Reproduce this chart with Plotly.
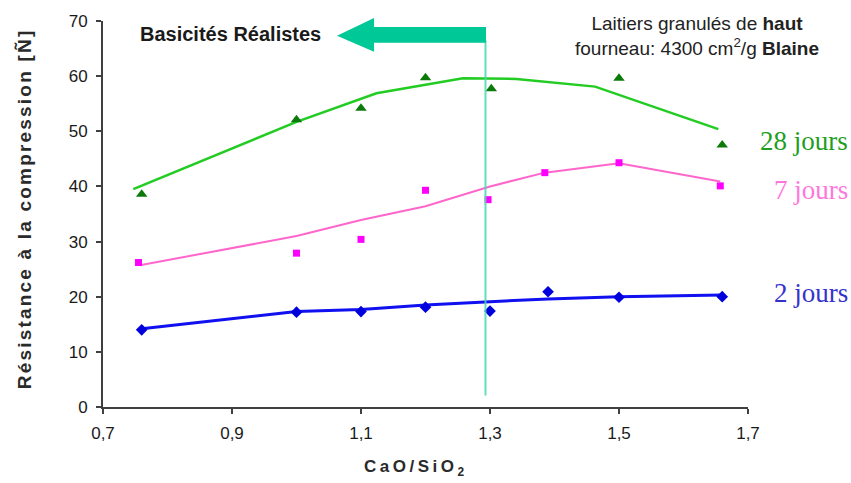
import plotly.graph_objects as go

# ---- data ----
x_2j = [0.76, 1.0, 1.1, 1.2, 1.3, 1.39, 1.5, 1.66]
y_2j = [14.0, 17.2, 17.3, 18.1, 17.4, 20.9, 19.9, 20.0]
trend_x_2j = [0.76, 1.0, 1.1, 1.2, 1.3, 1.39, 1.5, 1.66]
trend_y_2j = [14.2, 17.3, 17.7, 18.5, 19.1, 19.6, 20.0, 20.3]

x_7j = [0.755, 1.0, 1.1, 1.2, 1.297, 1.385, 1.5, 1.657]
y_7j = [26.2, 27.9, 30.4, 39.3, 37.6, 42.5, 44.3, 40.1]
trend_x_7j = [0.757, 1.0, 1.1, 1.2, 1.3, 1.385, 1.5, 1.657]
trend_y_7j = [25.7, 31.0, 33.9, 36.4, 40.0, 42.5, 44.2, 40.9]

x_28j = [0.76, 1.0, 1.1, 1.2, 1.302, 1.5, 1.66]
y_28j = [38.6, 52.1, 54.2, 59.7, 57.7, 59.6, 47.5]
trend_x_28j = [0.747, 1.0, 1.124, 1.258, 1.341, 1.463, 1.654]
trend_y_28j = [39.5, 51.7, 56.9, 59.6, 59.5, 58.1, 50.4]

x_ticks = [0.7, 0.9, 1.1, 1.3, 1.5, 1.7]
x_ticktext = ["0,7", "0,9", "1,1", "1,3", "1,5", "1,7"]
y_ticks = [0, 10, 20, 30, 40, 50, 60, 70]

basicity_limit = 1.293

SANS = "Liberation Sans, Arial, sans-serif"
SERIF = "Liberation Serif, Times New Roman, serif"

fig = go.Figure()

# trend lines
fig.add_trace(go.Scatter(x=trend_x_28j, y=trend_y_28j, mode="lines",
                         line=dict(color="#22CC22", width=2.5), hoverinfo="skip"))
fig.add_trace(go.Scatter(x=trend_x_7j, y=trend_y_7j, mode="lines",
                         line=dict(color="#FF66CC", width=2), hoverinfo="skip"))
fig.add_trace(go.Scatter(x=trend_x_2j, y=trend_y_2j, mode="lines",
                         line=dict(color="#1010F0", width=3), hoverinfo="skip"))

# measured points
fig.add_trace(go.Scatter(x=x_28j, y=y_28j, mode="markers",
                         marker=dict(symbol="triangle-up", size=10, color="#0B7A0B")))
fig.add_trace(go.Scatter(x=x_7j, y=y_7j, mode="markers",
                         marker=dict(symbol="square", size=7, color="#FF00FF")))
fig.add_trace(go.Scatter(x=x_2j, y=y_2j, mode="markers",
                         marker=dict(symbol="diamond", size=9, color="#0000DD")))

# vertical limit line
fig.add_shape(type="line", xref="x", yref="y", x0=basicity_limit, x1=basicity_limit,
              y0=2.1, y1=66.5, line=dict(color="rgba(70,216,176,0.85)", width=2))

# big arrow (paper coordinates)
def px2paper(px, py):
    return (px - 103) / 645, (407 - py) / 390

pts = [(337, 32), (374, 14), (374, 23), (486, 23), (486, 39), (374, 39), (374, 48)]
path = ""
for i, (a, b) in enumerate(pts):
    xx, yy = px2paper(a, b)
    path += ("M" if i == 0 else "L") + f"{xx:.4f},{yy:.4f} "
path += "Z"
fig.add_shape(type="path", xref="paper", yref="paper", path=path,
              fillcolor="#00C896", line=dict(width=0))

annots = [
    dict(text="Basicités Réalistes", x=0.0543, y=0.967, xanchor="left", yanchor="middle",
         font=dict(family=SANS, size=20, color="#1a1a1a", weight="bold")),
    dict(text="Laitiers granulés de <b>haut</b><br>fourneau: 4300 cm<sup>2</sup>/g <b>Blaine</b>",
         x=0.921, y=0.9603, xanchor="center", yanchor="middle", align="center",
         font=dict(family=SANS, size=19, color="#222222")),
    dict(text="28 jours", x=1.158, y=0.69, xanchor="right", yanchor="middle",
         font=dict(family=SERIF, size=27, color="#1E9E1E")),
    dict(text="7 jours", x=1.158, y=0.5615, xanchor="right", yanchor="middle",
         font=dict(family=SERIF, size=27, color="#FF77DD")),
    dict(text="2 jours", x=1.158, y=0.295, xanchor="right", yanchor="middle",
         font=dict(family=SERIF, size=27, color="#3333CC")),
    dict(text="Résistance à la compression [Ñ]", x=-0.1225, y=0.515, textangle=-90,
         xanchor="center", yanchor="middle",
         font=dict(family=SANS, size=19, color="#2a2a2a", weight="bold")),
    dict(text="CaO/SiO<sub>2</sub>", x=0.485, y=-0.159, xanchor="center", yanchor="middle",
         font=dict(family=SANS, size=17, color="#2a2a2a", weight="bold")),
]
for a in annots:
    fig.add_annotation(xref="paper", yref="paper", showarrow=False, **a)

axis_common = dict(showline=True, linecolor="#404040", linewidth=2, ticks="outside",
                   ticklen=5, tickwidth=2, tickcolor="#404040", showgrid=False,
                   zeroline=False, tickfont=dict(family=SANS, size=17, color="#1a1a1a"))

fig.update_xaxes(range=[0.7, 1.7], tickvals=x_ticks, ticktext=x_ticktext,
                 ticklabelstandoff=5, **axis_common)
fig.update_yaxes(range=[0, 70], tickvals=y_ticks, ticklabelstandoff=5, **axis_common)

fig.update_layout(width=851, height=483, showlegend=False,
                  margin=dict(l=103, r=103, t=17, b=76),
                  plot_bgcolor="white", paper_bgcolor="white")

post = """
document.body.style.margin = '0';
document.body.style.overflow = 'hidden';
var gd = document.getElementById('{plot_id}');
gd.querySelectorAll('text').forEach(function(t){
  var s = t.textContent || '';
  if (s.indexOf('sistance') >= 0) t.style.letterSpacing = '2.2px';
  if (s.indexOf('CaO') === 0) t.style.letterSpacing = '3.5px';
});
"""
fig.write_html("out.html", post_script=post, config={"displayModeBar": False})
